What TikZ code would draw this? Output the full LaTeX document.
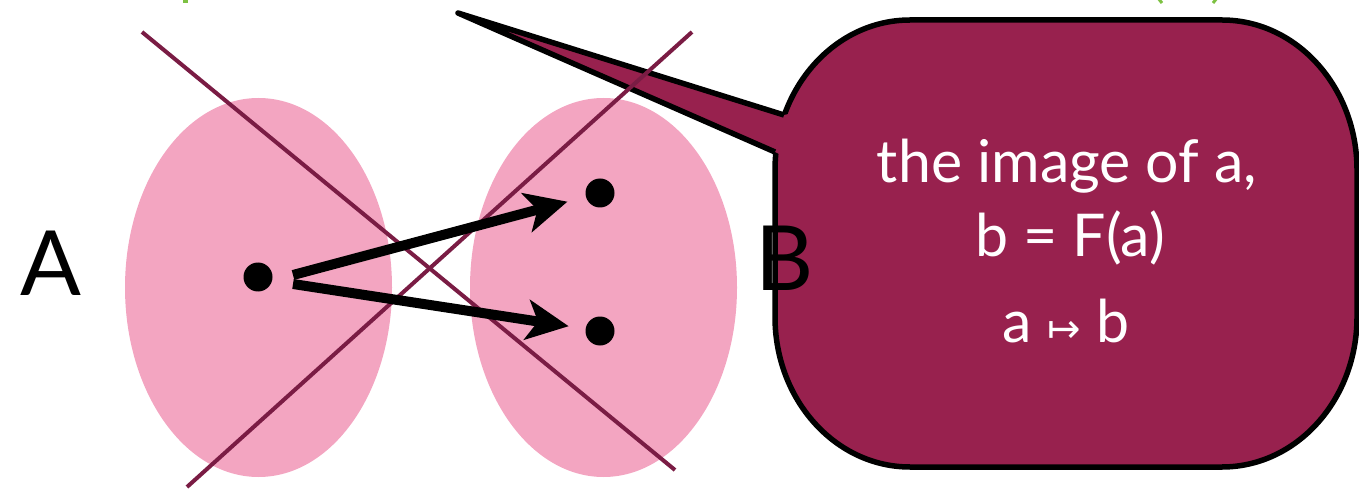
\documentclass[tikz,border=0pt]{standalone}
\usepackage{fontspec}
\setmainfont{Lato}
\newfontfamily\symfont{DejaVu Sans}
\usetikzlibrary{arrows.meta}
\definecolor{pinkset}{HTML}{F3A5C1}
\definecolor{crossc}{HTML}{7A1C44}
\definecolor{calloutc}{HTML}{98214E}
\definecolor{greenc}{HTML}{7DC142}
\begin{document}
\begin{tikzpicture}[x=1pt,y=-1pt,
  crossline/.style={draw=crossc, line width=4pt},
  dotnode/.style={circle, fill=black, inner sep=0pt, minimum size=29pt},
  maparrow/.style={line width=10pt, -{Stealth[length=42pt,width=40pt,inset=11pt]}},
  setlabel/.style={font=\fontsize{90}{90}\selectfont, anchor=base, inner sep=0pt},
  calltext/.style={text=white, font=\fontsize{59}{59}\selectfont, anchor=base, inner sep=0pt},
  calloutline/.style={draw=black, line width=5.5pt, line join=round},
]
\useasboundingbox (0,0) rectangle (1359,494);

% green fragments of clipped title
\draw[greenc, line width=5pt] (185,-2) -- (185,3.5);
\draw[greenc, line width=3pt] (1158,-2) -- (1162,3);
\draw[greenc, line width=3pt] (1217,-2) -- (1213,3);

% sets
\fill[pinkset] (258.5,287.5) ellipse [x radius=133.5pt, y radius=189.5pt];
\fill[pinkset] (603.5,287.5) ellipse [x radius=133.5pt, y radius=189.5pt];

% callout box
\fill[calloutc] (910,20) -- (1222,20)
  .. controls (1296.6,20) and (1357,87.2) .. (1357,170) -- (1357,317)
  .. controls (1357,399.8) and (1296.6,467) .. (1222,467) -- (910,467)
  .. controls (835.4,467) and (775,399.8) .. (775,317) -- (775,170)
  .. controls (775,87.2) and (835.4,20) .. (910,20) -- cycle;
\draw[calloutline] (910,20) -- (1222,20)
  .. controls (1296.6,20) and (1357,87.2) .. (1357,170) -- (1357,317)
  .. controls (1357,399.8) and (1296.6,467) .. (1222,467) -- (910,467)
  .. controls (835.4,467) and (775,399.8) .. (775,317) -- (775,170)
  .. controls (775,87.2) and (835.4,20) .. (910,20) -- cycle;
% callout tail
\coordinate (tip) at (458,13);
\coordinate (tu) at (784,115);
\coordinate (tl) at (775,152);
\fill[calloutc] (tip) -- (tu) -- (798,112) -- (792,160) -- (tl) -- cycle;
\draw[calloutline] (tu) -- (tip) -- (tl);

% crossing lines
\draw[crossline] (142,32) -- (675,470);
\draw[crossline] (692,32) -- (187,487);

% points
\node[dotnode] (a) at (258,277) {};
\node[dotnode] (b1) at (600,193) {};
\node[dotnode] (b2) at (600,331) {};
\coordinate (a1) at (293,275);
\coordinate (a2) at (293,284);
\draw[maparrow, shorten >=19pt] (a1) -- (b1);
\draw[maparrow, shorten >=17pt] (a2) -- (b2);

% labels
\node[setlabel] (lA) at (51,295) {A};
\node[setlabel] (lB) at (785,290) {B};

% callout text
\node[calltext] (t1) at (1067,183) {the image of a,};
\node[calltext] (t2) at (1070,257) {b = F(a)};
\node[calltext] (t3) at (1066,342) {a {\symfont\fontsize{40}{40}\selectfont ↦} b};
\end{tikzpicture}
\end{document}
